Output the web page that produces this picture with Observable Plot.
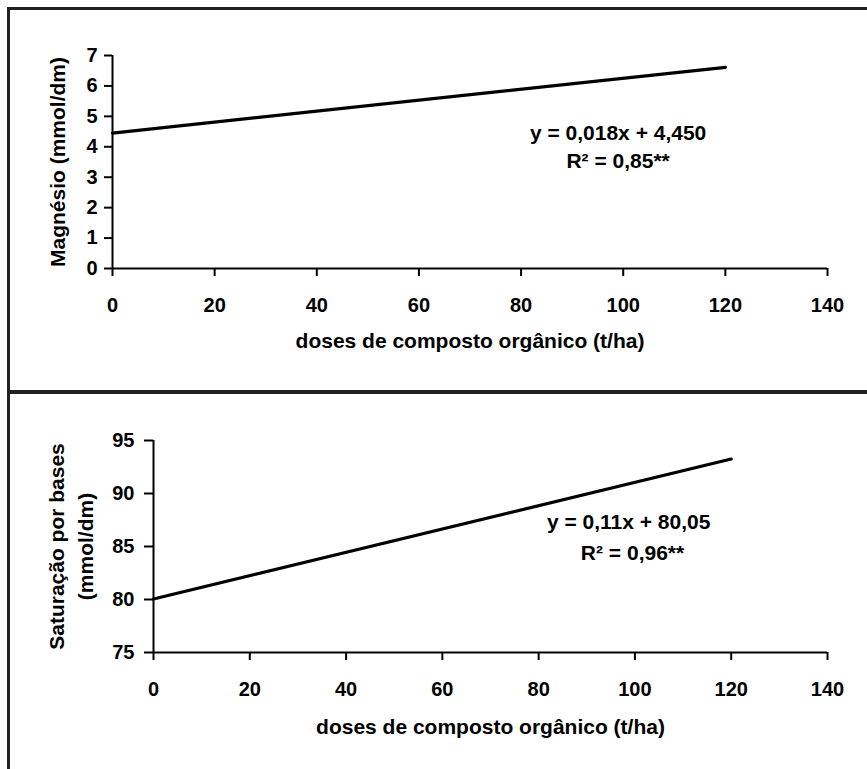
<!DOCTYPE html>
<html>
<head>
<meta charset="utf-8">
<script src="https://cdn.jsdelivr.net/npm/d3@7"></script>
<script src="https://cdn.jsdelivr.net/npm/@observablehq/plot@0.6"></script>
<style>
  html, body { margin: 0; padding: 0; background: #fff; }
  #wrap { position: relative; width: 867px; height: 769px; overflow: hidden; }
  #top, #bottom { position: absolute; left: 0; }
  #top { top: 0; }
  #bottom { top: 390px; }
  .frameTop { position: absolute; left: 7px; top: 7px; width: 900px; height: 1000px;
              border-left: 3px solid #222; border-top: 3px solid #222; box-sizing: border-box; }
  .sep { position: absolute; left: 7px; top: 390px; width: 900px; height: 4px; background: #222; }
</style>
</head>
<body>
<div id="wrap">
  <div id="top"></div>
  <div id="bottom"></div>
  <div class="frameTop"></div>
  <div class="sep"></div>
</div>
<script>
// ---- data ----
const xTicks = [0, 20, 40, 60, 80, 100, 120, 140];
const xTitle = "doses de composto orgânico (t/ha)";

// Top panel: Magnésio
const magDoses = [0, 120];
const magValues = [4.45, 6.61];
const magYTicks = [0, 1, 2, 3, 4, 5, 6, 7];
const magYTitle = "Magnésio (mmol/dm)";
const magEqText = ["y = 0,018x + 4,450", "R² = 0,85**"];
const magEqX = [99, 99];
const magEqY = [4.46, 3.51];

// Bottom panel: Saturação por bases
const satDoses = [0, 120];
const satValues = [80.05, 93.25];
const satYTicks = [75, 80, 85, 90, 95];
const satYTitle = ["Saturação por bases", "(mmol/dm)"];
const satEqText = ["y = 0,11x + 80,05", "R² = 0,96**"];
const satEqX = [98.7, 99.5];
const satEqY = [87.27, 84.35];

const font = "'Liberation Sans', Arial, Helvetica, sans-serif";
const baseStyle = {fontFamily: font, fontSize: "20px", fontWeight: "bold", color: "#000", background: "transparent", overflow: "visible"};

function panel({doses, values, yTicks, yDomain, eqText, eqX, eqY, yTitles, yTitleDx, height, ml, mt, mb, xTitleDy, yTickSize, yTickPad}) {
  const line = doses.map((d, i) => ({x: d, y: values[i]}));
  const eq = eqText.map((t, i) => ({t, x: eqX[i], y: eqY[i]}));
  return Plot.plot({
    width: 867,
    height,
    marginLeft: ml,
    marginRight: 40,
    marginTop: mt,
    marginBottom: mb,
    style: baseStyle,
    x: {domain: [0, 140]},
    y: {domain: yDomain},
    marks: [
      Plot.axisX({ticks: xTicks, tickSize: 8, tickPadding: 21, strokeWidth: 2, label: null, fontSize: 20, tickFormat: d => String(d)}),
      Plot.axisY({ticks: yTicks, tickSize: yTickSize, tickPadding: yTickPad, strokeWidth: 2, label: null, fontSize: 20, tickFormat: d => String(d)}),
      Plot.ruleX([0], {strokeWidth: 2}),
      Plot.ruleY([yDomain[0]], {strokeWidth: 2}),
      Plot.line(line, {x: "x", y: "y", stroke: "#000", strokeWidth: 3.2}),
      Plot.text(eq, {x: "x", y: "y", text: "t", fontSize: 21, fill: "#000"}),
      Plot.text([xTitle], {text: d => d, frameAnchor: "bottom", textAnchor: "middle", dy: xTitleDy, fontSize: 21, fill: "#000"}),
      ...yTitles.map((t, i) => Plot.text([t], {text: d => d, frameAnchor: "left", textAnchor: "middle", dx: yTitleDx[i], rotate: -90, fontSize: 21, fill: "#000"}))
    ]
  });
}

document.getElementById("top").append(panel({
  doses: magDoses, values: magValues, yTicks: magYTicks, yDomain: [0, 7],
  eqText: magEqText, eqX: magEqX, eqY: magEqY,
  yTitles: [magYTitle], yTitleDx: [-54],
  height: 390, ml: 112, mt: 55, mb: 122, xTitleDy: 79, yTickSize: 8, yTickPad: 7
}));

document.getElementById("bottom").append(panel({
  doses: satDoses, values: satValues, yTicks: satYTicks, yDomain: [75, 95],
  eqText: satEqText, eqX: satEqX, eqY: satEqY,
  yTitles: satYTitle, yTitleDx: [-96, -67],
  height: 379, ml: 153, mt: 50, mb: 117, xTitleDy: 81, yTickSize: 9, yTickPad: 10
}));
</script>
</body>
</html>
